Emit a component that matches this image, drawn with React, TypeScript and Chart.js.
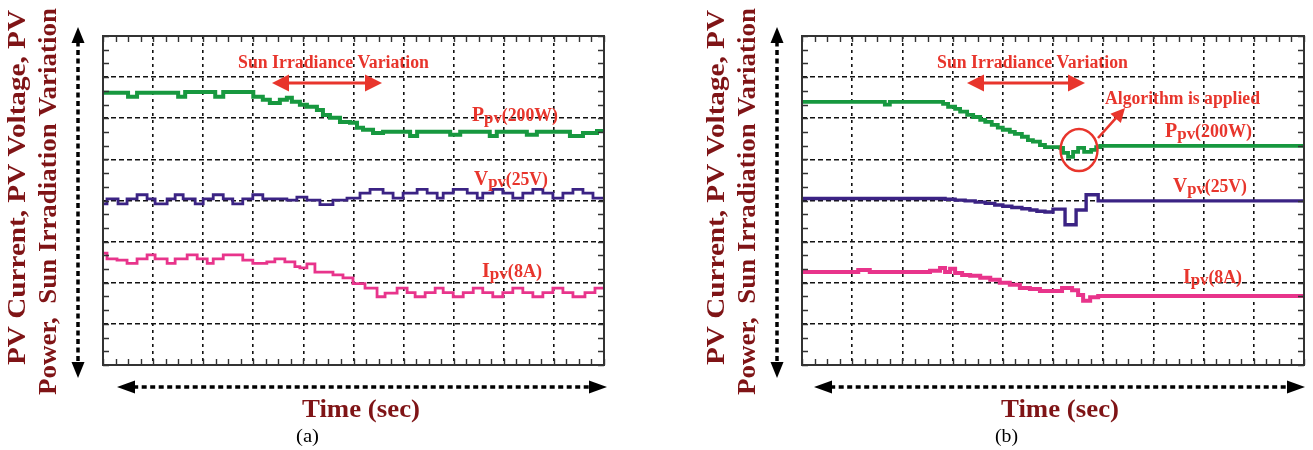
import React, { useEffect, useRef } from "react";
import { Chart, registerables } from "chart.js";

Chart.register(...registerables);

const WIDTH = 1313;
const HEIGHT = 450;

// ---------------- Data (time and amplitude in scope grid divisions) ----------------
// Panel (a)
const timeA_P = [0, 0.5, 0.68, 1.5, 1.64, 2.24, 2.4, 3.0, 3.19, 3.33, 3.53, 3.67, 3.77, 3.93, 4.07, 4.27, 4.39, 4.53, 4.73, 4.93, 5.07, 5.19, 5.39, 5.59, 6.13, 6.27, 6.93, 7.13, 7.72, 7.86, 8.46, 8.66, 9.32, 9.58, 9.86, 10];
const powerA = [6.62, 6.52, 6.62, 6.52, 6.64, 6.52, 6.64, 6.52, 6.45, 6.37, 6.45, 6.5, 6.4, 6.33, 6.28, 6.2, 6.08, 6.01, 5.91, 5.89, 5.77, 5.72, 5.64, 5.67, 5.57, 5.67, 5.6, 5.67, 5.57, 5.67, 5.6, 5.67, 5.57, 5.64, 5.69, 5.69];

const timeA_V = [0, 0.08, 0.3, 0.48, 0.68, 0.88, 1.04, 1.28, 1.44, 1.6, 1.84, 2.0, 2.2, 2.4, 2.59, 2.79, 2.99, 3.19, 3.67, 3.87, 4.07, 4.33, 4.59, 4.87, 5.13, 5.33, 5.59, 5.79, 5.99, 6.27, 6.47, 6.67, 6.79, 6.99, 7.27, 7.47, 7.58, 7.78, 7.98, 8.18, 8.38, 8.58, 8.78, 8.98, 9.18, 9.38, 9.58, 9.78, 10];
const voltageA = [3.92, 4.04, 3.92, 4.04, 4.14, 4.04, 3.92, 4.04, 4.14, 4.04, 3.92, 4.04, 4.14, 4.04, 3.92, 4.04, 4.14, 4.04, 4.01, 4.08, 4.01, 3.9, 4.01, 4.06, 4.18, 4.27, 4.18, 4.06, 4.18, 4.27, 4.18, 4.06, 4.18, 4.27, 4.18, 4.06, 4.18, 4.27, 4.18, 4.06, 4.18, 4.27, 4.18, 4.06, 4.18, 4.27, 4.18, 4.06, 4.06];

const timeA_I = [0, 0.08, 0.28, 0.48, 0.68, 0.88, 1.04, 1.28, 1.44, 1.68, 1.88, 2.08, 2.2, 2.4, 2.79, 2.99, 3.27, 3.43, 3.63, 3.83, 3.93, 4.07, 4.23, 4.59, 4.79, 4.99, 5.23, 5.47, 5.63, 5.87, 6.07, 6.23, 6.43, 6.63, 6.79, 6.99, 7.19, 7.39, 7.58, 7.78, 7.98, 8.18, 8.38, 8.58, 8.78, 8.98, 9.18, 9.38, 9.62, 9.82, 10];
const currentA = [2.72, 2.58, 2.55, 2.47, 2.58, 2.68, 2.58, 2.47, 2.58, 2.68, 2.58, 2.47, 2.58, 2.68, 2.55, 2.47, 2.51, 2.58, 2.51, 2.39, 2.36, 2.46, 2.26, 2.19, 2.12, 1.98, 1.87, 1.66, 1.75, 1.87, 1.76, 1.66, 1.76, 1.87, 1.76, 1.66, 1.76, 1.87, 1.76, 1.66, 1.76, 1.87, 1.76, 1.66, 1.76, 1.87, 1.76, 1.66, 1.76, 1.87, 1.87];

// Panel (b)
const timeB_P = [0, 1.65, 1.75, 2.81, 2.91, 3.05, 3.15, 3.29, 3.41, 3.55, 3.65, 3.78, 3.9, 4.0, 4.14, 4.24, 4.38, 4.5, 4.6, 4.74, 4.84, 5.14, 5.2, 5.3, 5.4, 5.5, 5.62, 5.76, 5.86, 5.94, 10];
const powerB = [6.4, 6.33, 6.4, 6.35, 6.28, 6.23, 6.16, 6.08, 6.03, 5.96, 5.91, 5.84, 5.77, 5.72, 5.67, 5.62, 5.55, 5.47, 5.43, 5.35, 5.3, 5.28, 5.16, 5.06, 5.18, 5.28, 5.18, 5.23, 5.3, 5.33, 5.33];

const timeB_V = [0, 2.85, 3.05, 3.25, 3.45, 3.65, 3.84, 4.0, 4.18, 4.38, 4.54, 4.68, 4.84, 5.0, 5.24, 5.46, 5.66, 5.9, 10];
const voltageB = [4.05, 4.03, 4.01, 3.99, 3.96, 3.93, 3.89, 3.86, 3.83, 3.8, 3.77, 3.74, 3.72, 3.79, 3.41, 3.77, 4.14, 3.99, 3.99];

const timeB_I = [0, 1.12, 1.35, 2.55, 2.75, 2.85, 2.95, 3.05, 3.19, 3.35, 3.55, 3.75, 3.94, 4.14, 4.34, 4.54, 4.74, 5.18, 5.38, 5.5, 5.6, 5.74, 5.9, 10];
const currentB = [2.26, 2.31, 2.26, 2.29, 2.36, 2.26, 2.34, 2.24, 2.19, 2.17, 2.12, 2.07, 2.0, 1.95, 1.87, 1.85, 1.8, 1.87, 1.82, 1.7, 1.56, 1.65, 1.68, 1.68];

// Axis ranges (grid divisions)
const xDivisions = 10;
const yDivisions = 8;

// Texts
const yLabelLine1 = "PV Current, PV Voltage, PV";
const yLabelLine2 = "Power,  Sun Irradiation Variation";
const xLabelText = "Time (sec)";
const variationText = "Sun Irradiance Variation";
const algorithmText = "Algorithm is applied";
const seriesNames = [
  { main: "P", sub: "pv", rest: "(200W)" },
  { main: "V", sub: "pv", rest: "(25V)" },
  { main: "I", sub: "pv", rest: "(8A)" },
];

// ---------------- Styles ----------------
const GREEN = "#17983f";
const PURPLE = "#3b2384";
const PINK = "#e8348b";
const RED = "#e8352c";
const DARKRED = "#7f1416";
const GRID = "#111";
const SERIF = '"Liberation Serif", "Times New Roman", serif';

type Panel = {
  key: string;
  left: number;
  right: number;
  top: number;
  bottom: number;
  caption: string;
  data: { t: number[]; v: number[]; color: string; width: number }[];
  labels: { dx: number; w: number; base: number }[];
  sunArrow: [number, number];
  algorithm: boolean;
  hArrow: [number, number];
};

const panels: Panel[] = [
  {
    key: "a",
    left: 103,
    right: 604,
    top: 36,
    bottom: 365,
    caption: "(a)",
    data: [
      { t: timeA_P, v: powerA, color: GREEN, width: 4 },
      { t: timeA_V, v: voltageA, color: PURPLE, width: 2.8 },
      { t: timeA_I, v: currentA, color: PINK, width: 2.8 },
    ],
    labels: [
      { dx: 369, w: 86, base: 121 },
      { dx: 371, w: 74, base: 185 },
      { dx: 379, w: 60, base: 277 },
    ],
    sunArrow: [169, 279],
    algorithm: false,
    hArrow: [14, 3],
  },
  {
    key: "b",
    left: 802,
    right: 1304,
    top: 36,
    bottom: 365,
    caption: "(b)",
    data: [
      { t: timeB_P, v: powerB, color: GREEN, width: 3.8 },
      { t: timeB_V, v: voltageB, color: PURPLE, width: 3.4 },
      { t: timeB_I, v: currentB, color: PINK, width: 4 },
    ],
    labels: [
      { dx: 363, w: 87, base: 137 },
      { dx: 371, w: 74, base: 192 },
      { dx: 381, w: 59, base: 283 },
    ],
    sunArrow: [165, 283],
    algorithm: true,
    hArrow: [12, 1],
  },
];

// ---------------- Drawing helpers ----------------
function fillFit(ctx: CanvasRenderingContext2D, text: string, x: number, y: number, width: number, font: string, color: string) {
  ctx.save();
  ctx.font = font;
  ctx.fillStyle = color;
  ctx.textBaseline = "alphabetic";
  ctx.textAlign = "left";
  const w = ctx.measureText(text).width;
  ctx.translate(x, y);
  ctx.scale(width / w, 1);
  ctx.fillText(text, 0, 0);
  ctx.restore();
}

function fillRotatedFit(ctx: CanvasRenderingContext2D, text: string, cx: number, yBottom: number, length: number, font: string, color: string) {
  ctx.save();
  ctx.font = font;
  ctx.fillStyle = color;
  ctx.textBaseline = "middle";
  ctx.textAlign = "left";
  const w = ctx.measureText(text).width;
  ctx.translate(cx, yBottom);
  ctx.rotate(-Math.PI / 2);
  ctx.scale(length / w, 1);
  ctx.fillText(text, 0, 0);
  ctx.restore();
}

function subLabel(ctx: CanvasRenderingContext2D, main: string, sub: string, rest: string, x: number, base: number, width: number) {
  const big = `bold 20px ${SERIF}`;
  const mid = `bold 18px ${SERIF}`;
  const small = `bold 17px ${SERIF}`;
  ctx.save();
  ctx.fillStyle = RED;
  ctx.textBaseline = "alphabetic";
  ctx.font = big;
  const w1 = ctx.measureText(main).width;
  ctx.font = small;
  const w2 = ctx.measureText(sub).width;
  ctx.font = mid;
  const w3 = ctx.measureText(rest).width;
  const s = width / (w1 + w2 + w3);
  ctx.translate(x, base);
  ctx.scale(s, 1);
  ctx.font = big;
  ctx.fillText(main, 0, 0);
  ctx.font = small;
  ctx.fillText(sub, w1, 2);
  ctx.font = mid;
  ctx.fillText(rest, w1 + w2, 0);
  ctx.restore();
}

function head(ctx: CanvasRenderingContext2D, tx: number, ty: number, ux: number, uy: number, len: number, hw: number) {
  const bx = tx - ux * len;
  const by = ty - uy * len;
  const px = -uy;
  const py = ux;
  ctx.beginPath();
  ctx.moveTo(tx, ty);
  ctx.lineTo(bx + px * hw, by + py * hw);
  ctx.lineTo(bx - px * hw, by - py * hw);
  ctx.closePath();
  ctx.fill();
}

function arrow(
  ctx: CanvasRenderingContext2D,
  x1: number, y1: number, x2: number, y2: number,
  o: { color: string; lw: number; dash?: number[]; len: number; hw: number; start: boolean; end: boolean }
) {
  const dx = x2 - x1;
  const dy = y2 - y1;
  const d = Math.hypot(dx, dy);
  const ux = dx / d;
  const uy = dy / d;
  const sx = o.start ? x1 + ux * o.len * 0.9 : x1;
  const sy = o.start ? y1 + uy * o.len * 0.9 : y1;
  const ex = o.end ? x2 - ux * o.len * 0.9 : x2;
  const ey = o.end ? y2 - uy * o.len * 0.9 : y2;
  ctx.save();
  ctx.strokeStyle = o.color;
  ctx.fillStyle = o.color;
  ctx.lineWidth = o.lw;
  ctx.setLineDash(o.dash || []);
  ctx.beginPath();
  ctx.moveTo(sx, sy);
  ctx.lineTo(ex, ey);
  ctx.stroke();
  ctx.setLineDash([]);
  if (o.end) head(ctx, x2, y2, ux, uy, o.len, o.hw);
  if (o.start) head(ctx, x1, y1, -ux, -uy, o.len, o.hw);
  ctx.restore();
}

function decorPlugin(p: Panel) {
  return {
    id: "decor_" + p.key,
    afterDraw(chart: any) {
      const ctx: CanvasRenderingContext2D = chart.ctx;
      const { left: L, top: T, right: R, bottom: B } = chart.chartArea;
      const xs = chart.scales.x;
      const ys = chart.scales.y;

      // frame
      ctx.save();
      ctx.strokeStyle = "#333";
      ctx.lineWidth = 2;
      ctx.strokeRect(L, T, R - L, B - T);
      // minor ticks
      ctx.lineWidth = 1.4;
      ctx.beginPath();
      for (let i = 0; i <= xDivisions * 4; i++) {
        const x = Math.round(xs.getPixelForValue(i / 4)) + 0.5;
        ctx.moveTo(x, T);
        ctx.lineTo(x, T + 6);
        ctx.moveTo(x, B);
        ctx.lineTo(x, B - 6);
      }
      for (let j = 0; j <= yDivisions * 3; j++) {
        const y = Math.round(ys.getPixelForValue(j / 3)) + 0.5;
        ctx.moveTo(L, y);
        ctx.lineTo(L + 6, y);
        ctx.moveTo(R, y);
        ctx.lineTo(R - 6, y);
      }
      ctx.stroke();
      ctx.restore();

      // y-axis label
      fillRotatedFit(ctx, yLabelLine1, L - 84, 365, 355, `bold 25px ${SERIF}`, DARKRED);
      fillRotatedFit(ctx, yLabelLine2, L - 53, 395, 387, `bold 25px ${SERIF}`, DARKRED);

      // black dashed axis arrows
      arrow(ctx, L - 25, 27, L - 25, 378, { color: "#000", lw: 3.5, dash: [5, 3.5], len: 16, hw: 6.5, start: true, end: true });
      arrow(ctx, L + p.hArrow[0], B + 22, R + p.hArrow[1], B + 22, { color: "#000", lw: 3.5, dash: [5, 3.5], len: 18, hw: 6.5, start: true, end: true });

      // x label and caption
      fillFit(ctx, xLabelText, L + 199, B + 52, 118, `bold 26px ${SERIF}`, DARKRED);
      fillFit(ctx, p.caption, L + 193, B + 77, 23, `19px ${SERIF}`, "#000");

      // sun irradiance annotation
      fillFit(ctx, variationText, L + 135, 68, 191, `bold 18px ${SERIF}`, RED);
      arrow(ctx, L + p.sunArrow[0], 83, L + p.sunArrow[1], 83, { color: RED, lw: 3, len: 17, hw: 8.5, start: true, end: true });

      // series labels
      p.labels.forEach((lb, i) => {
        const n = seriesNames[i];
        subLabel(ctx, n.main, n.sub, n.rest, L + lb.dx, lb.base, lb.w);
      });

      if (p.algorithm) {
        fillFit(ctx, algorithmText, L + 303, 104, 155, `bold 18px ${SERIF}`, RED);
        ctx.save();
        ctx.strokeStyle = RED;
        ctx.lineWidth = 2.4;
        ctx.beginPath();
        ctx.ellipse(L + 277, 150, 18.5, 21, 0, 0, Math.PI * 2);
        ctx.stroke();
        ctx.restore();
        arrow(ctx, L + 296, 138, L + 323, 108, { color: RED, lw: 2.6, len: 14, hw: 7, start: false, end: true });
      }
    },
  };
}

function makeConfig(p: Panel): any {
  return {
    type: "line",
    data: {
      datasets: p.data.map((d) => ({
        data: d.t.map((t, i) => ({ x: t, y: d.v[i] })),
        borderColor: d.color,
        backgroundColor: d.color,
        borderWidth: d.width,
        stepped: true,
        pointRadius: 0,
        fill: false,
        borderCapStyle: "butt",
        borderJoinStyle: "miter",
      })),
    },
    options: {
      responsive: false,
      maintainAspectRatio: false,
      animation: false,
      events: [],
      layout: {
        padding: { left: p.left, right: WIDTH - p.right, top: p.top, bottom: HEIGHT - p.bottom },
      },
      plugins: {
        legend: { display: false },
        tooltip: { enabled: false },
        title: { display: false },
      },
      scales: {
        x: {
          type: "linear",
          min: 0,
          max: xDivisions,
          ticks: { display: false, stepSize: 1 },
          grid: { color: GRID, lineWidth: 1.6, drawTicks: false },
          border: { display: false, dash: [3, 4] },
        },
        y: {
          type: "linear",
          min: 0,
          max: yDivisions,
          ticks: { display: false, stepSize: 1 },
          grid: { color: GRID, lineWidth: 1.6, drawTicks: false },
          border: { display: false, dash: [5, 3] },
        },
      },
    },
    plugins: [decorPlugin(p)],
  };
}

function PanelChart({ p }: { p: Panel }) {
  const ref = useRef<HTMLCanvasElement | null>(null);
  useEffect(() => {
    if (!ref.current) return;
    const chart = new Chart(ref.current, makeConfig(p));
    return () => chart.destroy();
  }, [p]);
  return (
    <canvas
      ref={ref}
      width={WIDTH}
      height={HEIGHT}
      style={{ position: "absolute", left: 0, top: 0, width: WIDTH, height: HEIGHT }}
    />
  );
}

export default function App() {
  return (
    <div style={{ position: "absolute", left: 0, top: 0, width: WIDTH, height: HEIGHT, background: "#fff" }}>
      {panels.map((p) => (
        <PanelChart key={p.key} p={p} />
      ))}
    </div>
  );
}
